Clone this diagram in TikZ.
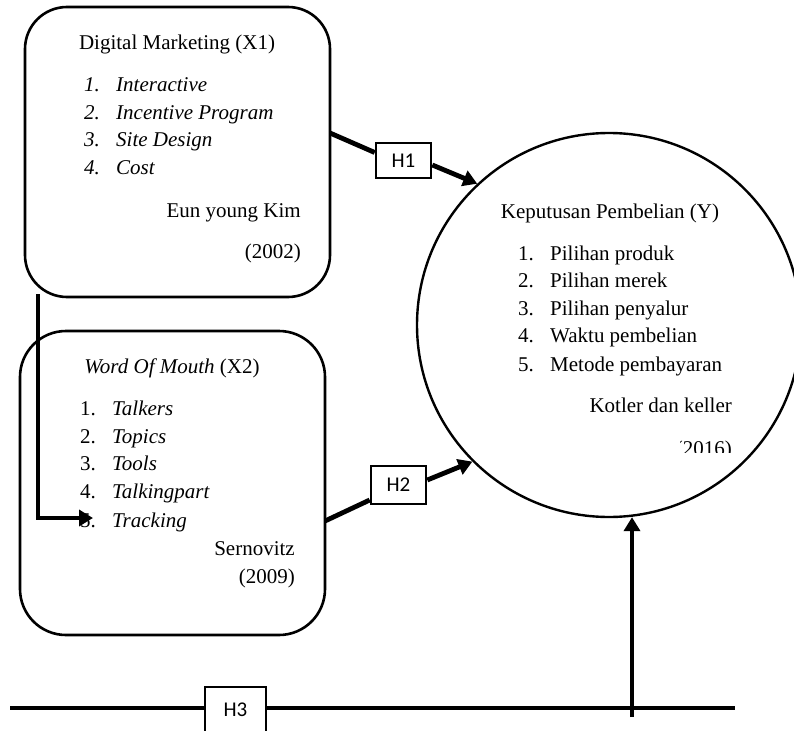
\documentclass[tikz,border=0pt]{standalone}
\usepackage{fontspec}
\setmainfont{Liberation Serif}
\newfontfamily\hfont{Carlito}
\usetikzlibrary{arrows.meta}
\begin{document}
\begin{tikzpicture}[x=1pt,y=-1pt,
  box/.style={draw,line width=2.6pt,rounded corners=42pt,inner sep=0pt},
  hbox/.style={draw,line width=2.6pt,fill=white,inner sep=0pt,font=\hfont\fontsize{21}{24}\selectfont},
  txt/.style={inner sep=0pt,font=\fontsize{21}{25}\selectfont},
  conn/.style={line width=4.8pt},
  arr/.style={line width=4.8pt,-{Triangle[length=14pt,width=16pt]}},
]
\useasboundingbox (0,0) rectangle (794,730);

% main shapes
\node[box,minimum width=305pt,minimum height=290pt] (X1) at (177.5,152) {};
\node[box,minimum width=305pt,minimum height=304pt,rounded corners=46pt] (X2) at (172.5,483) {};
\node[draw,circle,line width=2.4pt,minimum size=384pt,inner sep=0pt] (Y) at (609,325) {};

% hypothesis boxes
\node[hbox,minimum width=55pt,minimum height=35pt] (H1) at (403.5,160.5) {H1};
\node[hbox,minimum width=55pt,minimum height=38pt] (H2) at (398.5,485) {H2};
\node[hbox,minimum width=61pt,minimum height=46pt] (H3) at (235.5,710) {H3};

% X1 texts
\node[txt,anchor=base] (t1) at (177,50) {Digital Marketing (X1)};
\foreach \n/\t/\yy in {1/Interactive/92,2/Incentive Program/120,3/Site Design/147,4/Cost/175}{
  \node[txt,anchor=base west] (a\n) at (84,\yy) {\textit{\n.}};
  \node[txt,anchor=base west] (b\n) at (116,\yy) {\textit{\t}};
}
\node[txt,anchor=base east] (r1) at (301,217) {Eun young Kim};
\node[txt,anchor=base east] (y1) at (301,258) {(2002)};

% X2 texts
\node[txt,anchor=base] (t2) at (172,373) {\textit{Word Of Mouth} (X2)};
\foreach \n/\t/\yy in {1/Talkers/415,2/Topics/443,3/Tools/470,4/Talkingpart/498,5/Tracking/527}{
  \node[txt,anchor=base west] (c\n) at (80,\yy) {\n.};
  \node[txt,anchor=base west] (d\n) at (112,\yy) {\textit{\t}};
}
\node[txt,anchor=base east] (r2) at (295,555) {Sernovitz};
\node[txt,anchor=base east] (y2) at (295,583) {(2009)};

% Y texts
\node[txt,anchor=base] (t3) at (610,218) {Keputusan Pembelian (Y)};
\foreach \n/\t/\yy in {1/Pilihan produk/260,2/Pilihan merek/287,3/Pilihan penyalur/315,4/Waktu pembelian/342,5/Metode pembayaran/371}{
  \node[txt,anchor=base west] (e\n) at (518,\yy) {\n.};
  \node[txt,anchor=base west] (f\n) at (550,\yy) {\t};
}
\node[txt,anchor=base east] (r3) at (732,412) {Kotler dan keller};
\begin{scope}
  \clip (680,425) rectangle (760,452);
  \node[txt,anchor=base east] (y3) at (732,455) {(2016)};
\end{scope}

% connectors
\coordinate (p1) at (330,133);
\draw[conn] (p1) -- ([yshift=8pt]H1.west);
\draw[arr] ([yshift=-4.5pt]H1.east) -- (Y.133);

\coordinate (p2) at (325,521);
\draw[conn] (p2) -- ([yshift=-15pt]H2.west);
\draw[arr] ([yshift=5pt]H2.east) -- (Y.225);

\coordinate (q0) at (38,294);
\coordinate (q1) at (93,518);
\draw[arr] (q0) |- (q1);

\coordinate (L) at (10,708);
\coordinate (R) at (735,708);
\draw[conn] (L) -- (L -| H3.west);
\draw[conn] (R -| H3.east) -- (R);
\coordinate (v0) at (632,717);
\draw[arr] (v0) -- (v0 |- Y.-84);
\end{tikzpicture}
\end{document}
